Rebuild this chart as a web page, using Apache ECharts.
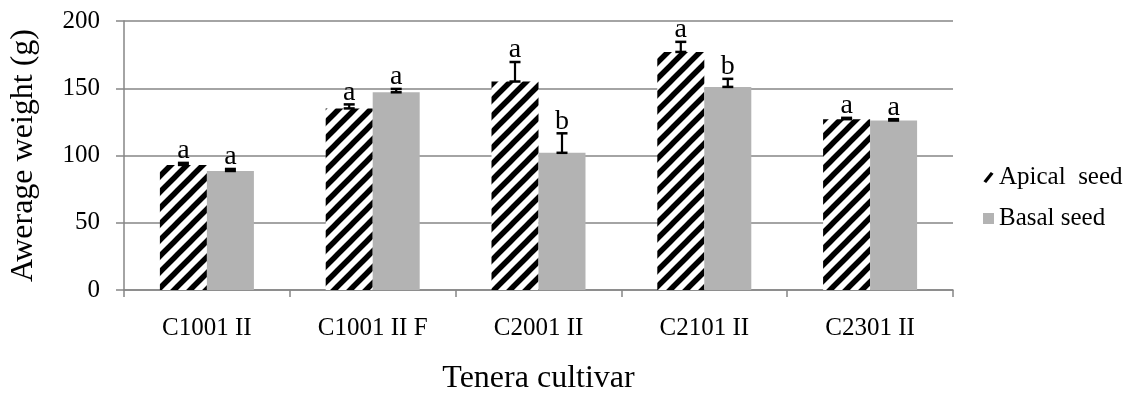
<!DOCTYPE html>
<html><head><meta charset="utf-8">
<script src="https://cdn.jsdelivr.net/npm/echarts@6/dist/echarts.min.js"></script>
<style>html,body{margin:0;padding:0;background:#fff}#c{width:1124px;height:400px}</style>
</head><body><div id="c"></div>
<script>
const categories = ['C1001 II', 'C1001 II F', 'C2001 II', 'C2101 II', 'C2301 II'];
const apical = [93, 135, 155, 177, 127];
const apicalErr = [1.5, 3, 14.5, 7.5, 1];
const apicalLetters = ['a', 'a', 'a', 'a', 'a'];
const basal = [88.5, 147, 102, 151, 126];
const basalErr = [1.5, 2.5, 14.5, 6, 1];
const basalLetters = ['a', 'a', 'b', 'b', 'a'];
const yTicks = [0, 50, 100, 150, 200];

const FONT = '"Liberation Serif", "Times New Roman", serif';

// diagonal stripe pattern
const tile = document.createElement('canvas');
const T = 16;
tile.width = T; tile.height = T;
const g = tile.getContext('2d');
g.fillStyle = '#fff'; g.fillRect(0, 0, T, T);
g.strokeStyle = '#000'; g.lineWidth = 5.5;
g.beginPath();
for (let k = -1; k <= 1; k++) {
  g.moveTo(k * T - 2, T + 2); g.lineTo(k * T + T + 2, -2);
}
g.stroke();
const stripe = { image: tile, repeat: 'repeat' };

const BW = 47;
function errRender(vals, errs, letters, offset) {
  return function (params, api) {
    const i = api.value(0);
    const v = vals[i], e = errs[i];
    const c = api.coord([i, v]);
    const top = api.coord([i, v + e]);
    const x = c[0] + offset;
    const cap = 5.5;
    return {
      type: 'group',
      children: [
        { type: 'line', shape: { x1: x, y1: c[1], x2: x, y2: top[1] }, style: { stroke: '#000', lineWidth: 2.2 } },
        { type: 'line', shape: { x1: x - cap, y1: top[1], x2: x + cap, y2: top[1] }, style: { stroke: '#000', lineWidth: 2.5 } },
        { type: 'line', shape: { x1: x - cap, y1: c[1], x2: x + cap, y2: c[1] }, style: { stroke: '#000', lineWidth: 2.5 } },
        { type: 'text', x: x, y: top[1] + 2, style: { text: letters[i], font: '28px ' + FONT, fill: '#000', align: 'center', verticalAlign: 'bottom' } }
      ]
    };
  };
}

const chart = echarts.init(document.getElementById('c'), null, { renderer: 'canvas' });
chart.setOption({
  animation: false,
  backgroundColor: '#fff',
  textStyle: { fontFamily: FONT, color: '#000' },
  grid: { left: 124, right: 171, top: 21, bottom: 104 },
  legend: {
    orient: 'vertical', left: 978, top: 160, itemGap: 16,
    itemWidth: 11, itemHeight: 11,
    textStyle: { fontFamily: FONT, fontSize: 25, color: '#000' },
    data: [
      { name: 'Apical  seed', icon: 'path://M0,10 L8,0 L11,2 L3,12 Z', itemStyle: { color: '#000' } },
      { name: 'Basal seed', icon: 'rect' }
    ]
  },
  xAxis: {
    type: 'category', data: categories,
    name: 'Tenera cultivar', nameLocation: 'middle', nameGap: 73,
    nameTextStyle: { fontFamily: FONT, fontSize: 32, color: '#000' },
    axisLine: { lineStyle: { color: '#868686', width: 1.5 } },
    axisTick: { show: true, length: 7, lineStyle: { color: '#868686', width: 1.5 } },
    axisLabel: { fontFamily: FONT, fontSize: 25, color: '#000', margin: 26 }
  },
  yAxis: {
    type: 'value', min: yTicks[0], max: yTicks[yTicks.length - 1], interval: 50,
    name: 'Awerage weight (g)', nameLocation: 'middle', nameGap: 84,
    nameTextStyle: { fontFamily: FONT, fontSize: 32, color: '#000' },
    axisLine: { show: true, lineStyle: { color: '#868686', width: 1.5 } },
    axisTick: { show: true, length: 8, inside: false, lineStyle: { color: '#868686', width: 1.5 } },
    axisLabel: { fontFamily: FONT, fontSize: 25, color: '#000', margin: 24 },
    splitLine: { lineStyle: { color: '#868686', width: 1.5 } }
  },
  series: [
    { name: 'Apical  seed', type: 'bar', data: apical, barWidth: BW, barGap: '0%', itemStyle: { color: stripe } },
    { name: 'Basal seed', type: 'bar', data: basal, barWidth: BW, barGap: '0%', itemStyle: { color: '#b3b3b3' } },
    { type: 'custom', data: apical.map((v, i) => [i, v]), renderItem: errRender(apical, apicalErr, apicalLetters, -BW / 2), z: 5, silent: true },
    { type: 'custom', data: basal.map((v, i) => [i, v]), renderItem: errRender(basal, basalErr, basalLetters, BW / 2), z: 5, silent: true }
  ]
});
</script></body></html>
